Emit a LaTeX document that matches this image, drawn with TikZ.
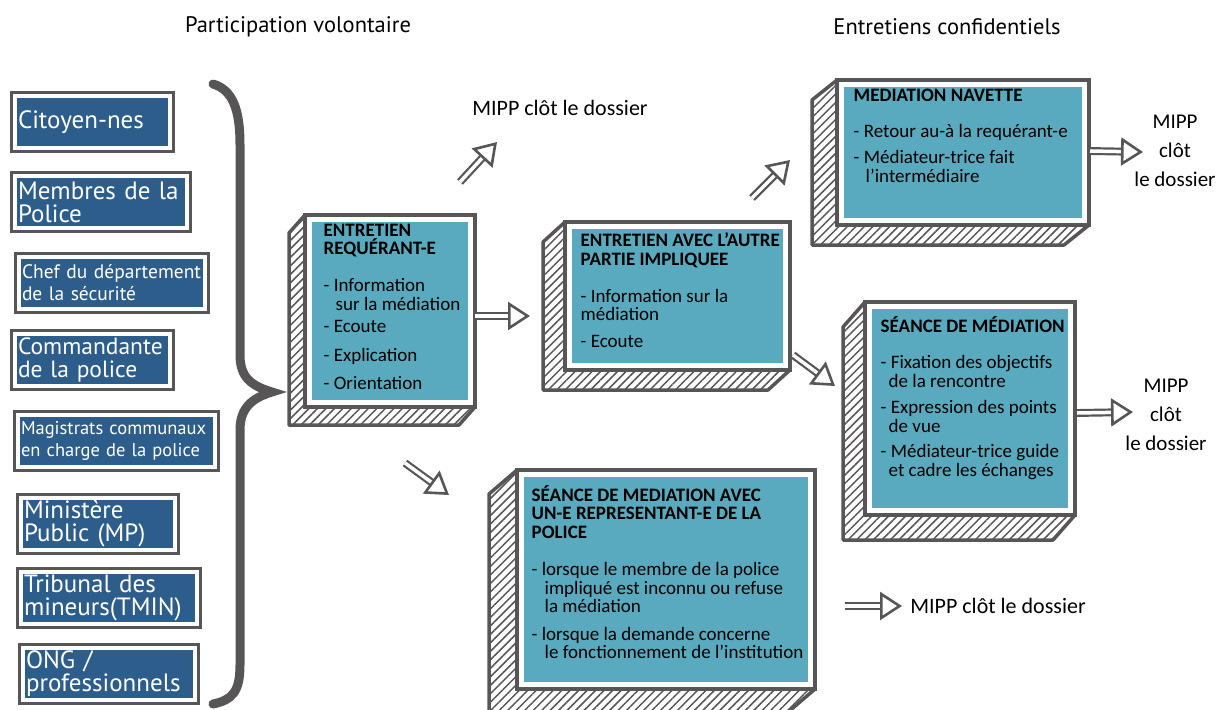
\documentclass[tikz,border=0pt]{standalone}
\usepackage{fontspec}
\setmainfont{Carlito}
\newfontfamily\ptsans{PT Sans}
\usetikzlibrary{positioning,arrows.meta,patterns.meta}

\definecolor{sketchgrey}{RGB}{88,85,86}
\definecolor{tealfill}{RGB}{89,170,190}
\definecolor{navyfill}{RGB}{45,94,139}

\tikzset{
  navybox/.style={fill=navyfill, draw=white, line width=4pt,
    preaction={draw=sketchgrey, line width=10pt}, text=white, align=left,
    inner xsep=3pt, inner ysep=0pt, outer sep=0pt, minimum height=52pt,
    text width=#1, font=\ptsans\fontsize{25}{23}\selectfont},
  tealbox/.style={fill=tealfill, draw=white, line width=5pt,
    preaction={draw=sketchgrey, line width=13pt}, inner sep=0pt,
    outer sep=4.5pt, anchor=north west},
  boxtext/.style={font=\fontsize{19}{18.5}\selectfont, align=left, inner sep=0pt},
  sidehatch/.style={draw=sketchgrey, line width=3.5pt, line join=round,
    pattern={Lines[angle=45, distance=6pt, line width=1.5pt]}, pattern color=sketchgrey},
  fatarrow/.style={draw=sketchgrey, line width=2.2pt, double=white, double distance=3.5pt,
    -{Triangle[open, length=22pt, width=28pt, line width=2.6pt]}},
  brace/.style={draw=sketchgrey, line width=9pt, line cap=round},
  title/.style={font=\ptsans\fontsize{22.5}{26}\selectfont},
  closing/.style={font=\fontsize{21}{29}\selectfont, align=center}
}

% hatched left and bottom faces behind a box
\newcommand{\hatchsides}[3]{%
  \draw[sidehatch] (#1.north west) -- ++(#2,#3)
    -- ([shift={(#2,#3)}]#1.south west) -- ([shift={(#2,#3)}]#1.south east)
    -- (#1.south east) -- (#1.south west) -- cycle;}

\begin{document}
\begin{tikzpicture}[x=1pt, y=-1pt]
	\useasboundingbox (0,0) rectangle (1222,709);

	% titles
	\node[title] (vol) at (298,27) {Participation volontaire};
	\node[title] (conf) at (947,27) {Entretiens confidentiels};

	% who can ask
	\node[navybox=149pt, anchor=north west] (cit) at (15,96) {Citoyen-nes};
	\node[navybox=166pt] (mem) [below right=28pt and 0pt of cit.south west] {Membres de la\\Police};
	\node[navybox=180pt, font=\ptsans\fontsize{19.5}{22}\selectfont] (chef) [below right=29pt and 4pt of mem.south west] {Chef du département\\de la sécurité};
	\node[navybox=149pt, font=\ptsans\fontsize{23.5}{23}\selectfont] (cmd) [below right=25pt and -4pt of chef.south west] {Commandante\\de la police};
	\node[navybox=191pt, font=\ptsans\fontsize{18.5}{22}\selectfont] (mag) [below right=29pt and 3pt of cmd.south west] {Magistrats communaux\\en charge de la police};
	\node[navybox=148pt] (mp) [below right=31pt and 3pt of mag.south west] {Ministère\\Public (MP)};
	\node[navybox=170pt] (tmin) [below right=22pt and 0pt of mp.south west] {Tribunal des\\mineurs(TMIN)};
	\node[navybox=166pt] (ong) [below right=24pt and 2pt of tmin.south west] {ONG /\\professionnels};

	\draw[brace] (213,84) .. controls (233,90) and (240,110) .. (240,145)
		-- (240,355) .. controls (240,378) and (252,386) .. (272,392)
		.. controls (252,398) and (240,408) .. (240,430)
		-- (240,665) .. controls (240,692) and (232,700) .. (213,704);

	% interview boxes
	\node[tealbox, minimum width=161pt, minimum height=183pt] (req) at (305,215) {};
	\node[tealbox, minimum width=216pt, minimum height=139pt] (aut) at (565,222) {};
	\node[tealbox, minimum width=243pt, minimum height=136pt] (nav) at (837,80) {};
	\node[tealbox, minimum width=201pt, minimum height=204pt] (sea) at (865,302) {};
	\node[tealbox, minimum width=289pt, minimum height=210pt] (pol) at (517,470) {};

	\hatchsides{req}{-16}{18}
	\hatchsides{aut}{-22}{20}
	\hatchsides{nav}{-25}{20}
	\hatchsides{sea}{-22}{25}
	\hatchsides{pol}{-28}{24}

	\node[boxtext, below right=9pt and 18.5pt of req.north west] (reqtxt)
		{\textbf{ENTRETIEN}\\[-1pt]\textbf{REQUÉRANT-E}\\[19pt]
		 - Information\\\hspace*{12pt}sur la médiation\\[4pt]
		 - Ecoute\\[10pt]- Explication\\[10pt]- Orientation};
	\node[boxtext, below right=10pt and 15.5pt of aut.north west] (auttxt)
		{\textbf{ENTRETIEN AVEC L'AUTRE}\\[1pt]\textbf{PARTIE IMPLIQUEE}\\[18pt]
		 - Information sur la\\médiation\\[8pt]- Ecoute};
	\node[boxtext, below right=9pt and 16.5pt of nav.north west] (navtxt)
		{\textbf{MEDIATION NAVETTE}\\[17pt]
		 - Retour au-à la requérant-e\\[8pt]
		 - Médiateur-trice fait\\\hspace*{12pt}l'intermédiaire};
	\node[boxtext, below right=14pt and 15.5pt of sea.north west] (seatxt)
		{\textbf{SÉANCE DE MÉDIATION}\\[18pt]
		 - Fixation des objectifs\\\hspace*{8pt}de la rencontre\\[8pt]
		 - Expression des points\\\hspace*{8pt}de vue\\[7pt]
		 - Médiateur-trice guide\\\hspace*{8pt}et cadre les échanges};
	\node[boxtext, below right=15pt and 14.5pt of pol.north west] (poltxt)
		{\textbf{SÉANCE DE MEDIATION AVEC}\\\textbf{UN-E REPRESENTANT-E DE LA}\\\textbf{POLICE}\\[19pt]
		 - lorsque le membre de la police\\\hspace*{13pt}impliqué est inconnu ou refuse\\\hspace*{13pt}la médiation\\[9pt]
		 - lorsque la demande concerne\\\hspace*{13pt}le fonctionnement de l’institution};

	% closing of the file
	\node[closing, font=\fontsize{22}{29}\selectfont] (mipp1) at (560,108) {MIPP clôt le dossier};
	\node[closing] (mipp2) at (1175,151) {MIPP\\clôt\\le dossier};
	\node[closing] (mipp3) at (1166,415) {MIPP\\clôt\\le dossier};
	\node[closing, font=\fontsize{22}{29}\selectfont] (mipp4) at (998,606) {MIPP clôt le dossier};

	% arrow ends
	\coordinate (a1) at (460,182);
	\coordinate (b1) at (497,142);
	\coordinate (a2) at (475,316);
	\coordinate (b2) at (530,316);
	\coordinate (a3) at (405,463);
	\coordinate (b3) at (449,495);
	\coordinate (a4) at (752,198);
	\coordinate (b4) at (790,160);
	\coordinate (a5) at (793,355);
	\coordinate (b5) at (835,386);
	\coordinate (a6) at (1090,151);
	\coordinate (b6) at (1143,152);
	\coordinate (a7) at (1077,413);
	\coordinate (b7) at (1133,412);
	\coordinate (a8) at (845,606);
	\coordinate (b8) at (902,606);

	\draw[fatarrow] (a1) -- (b1);
	\draw[fatarrow] (a2) -- (b2);
	\draw[fatarrow] (a3) -- (b3);
	\draw[fatarrow] (a4) -- (b4);
	\draw[fatarrow] (a5) -- (b5);
	\draw[fatarrow] (a6) -- (b6);
	\draw[fatarrow] (a7) -- (b7);
	\draw[fatarrow] (a8) -- (b8);
\end{tikzpicture}
\end{document}
